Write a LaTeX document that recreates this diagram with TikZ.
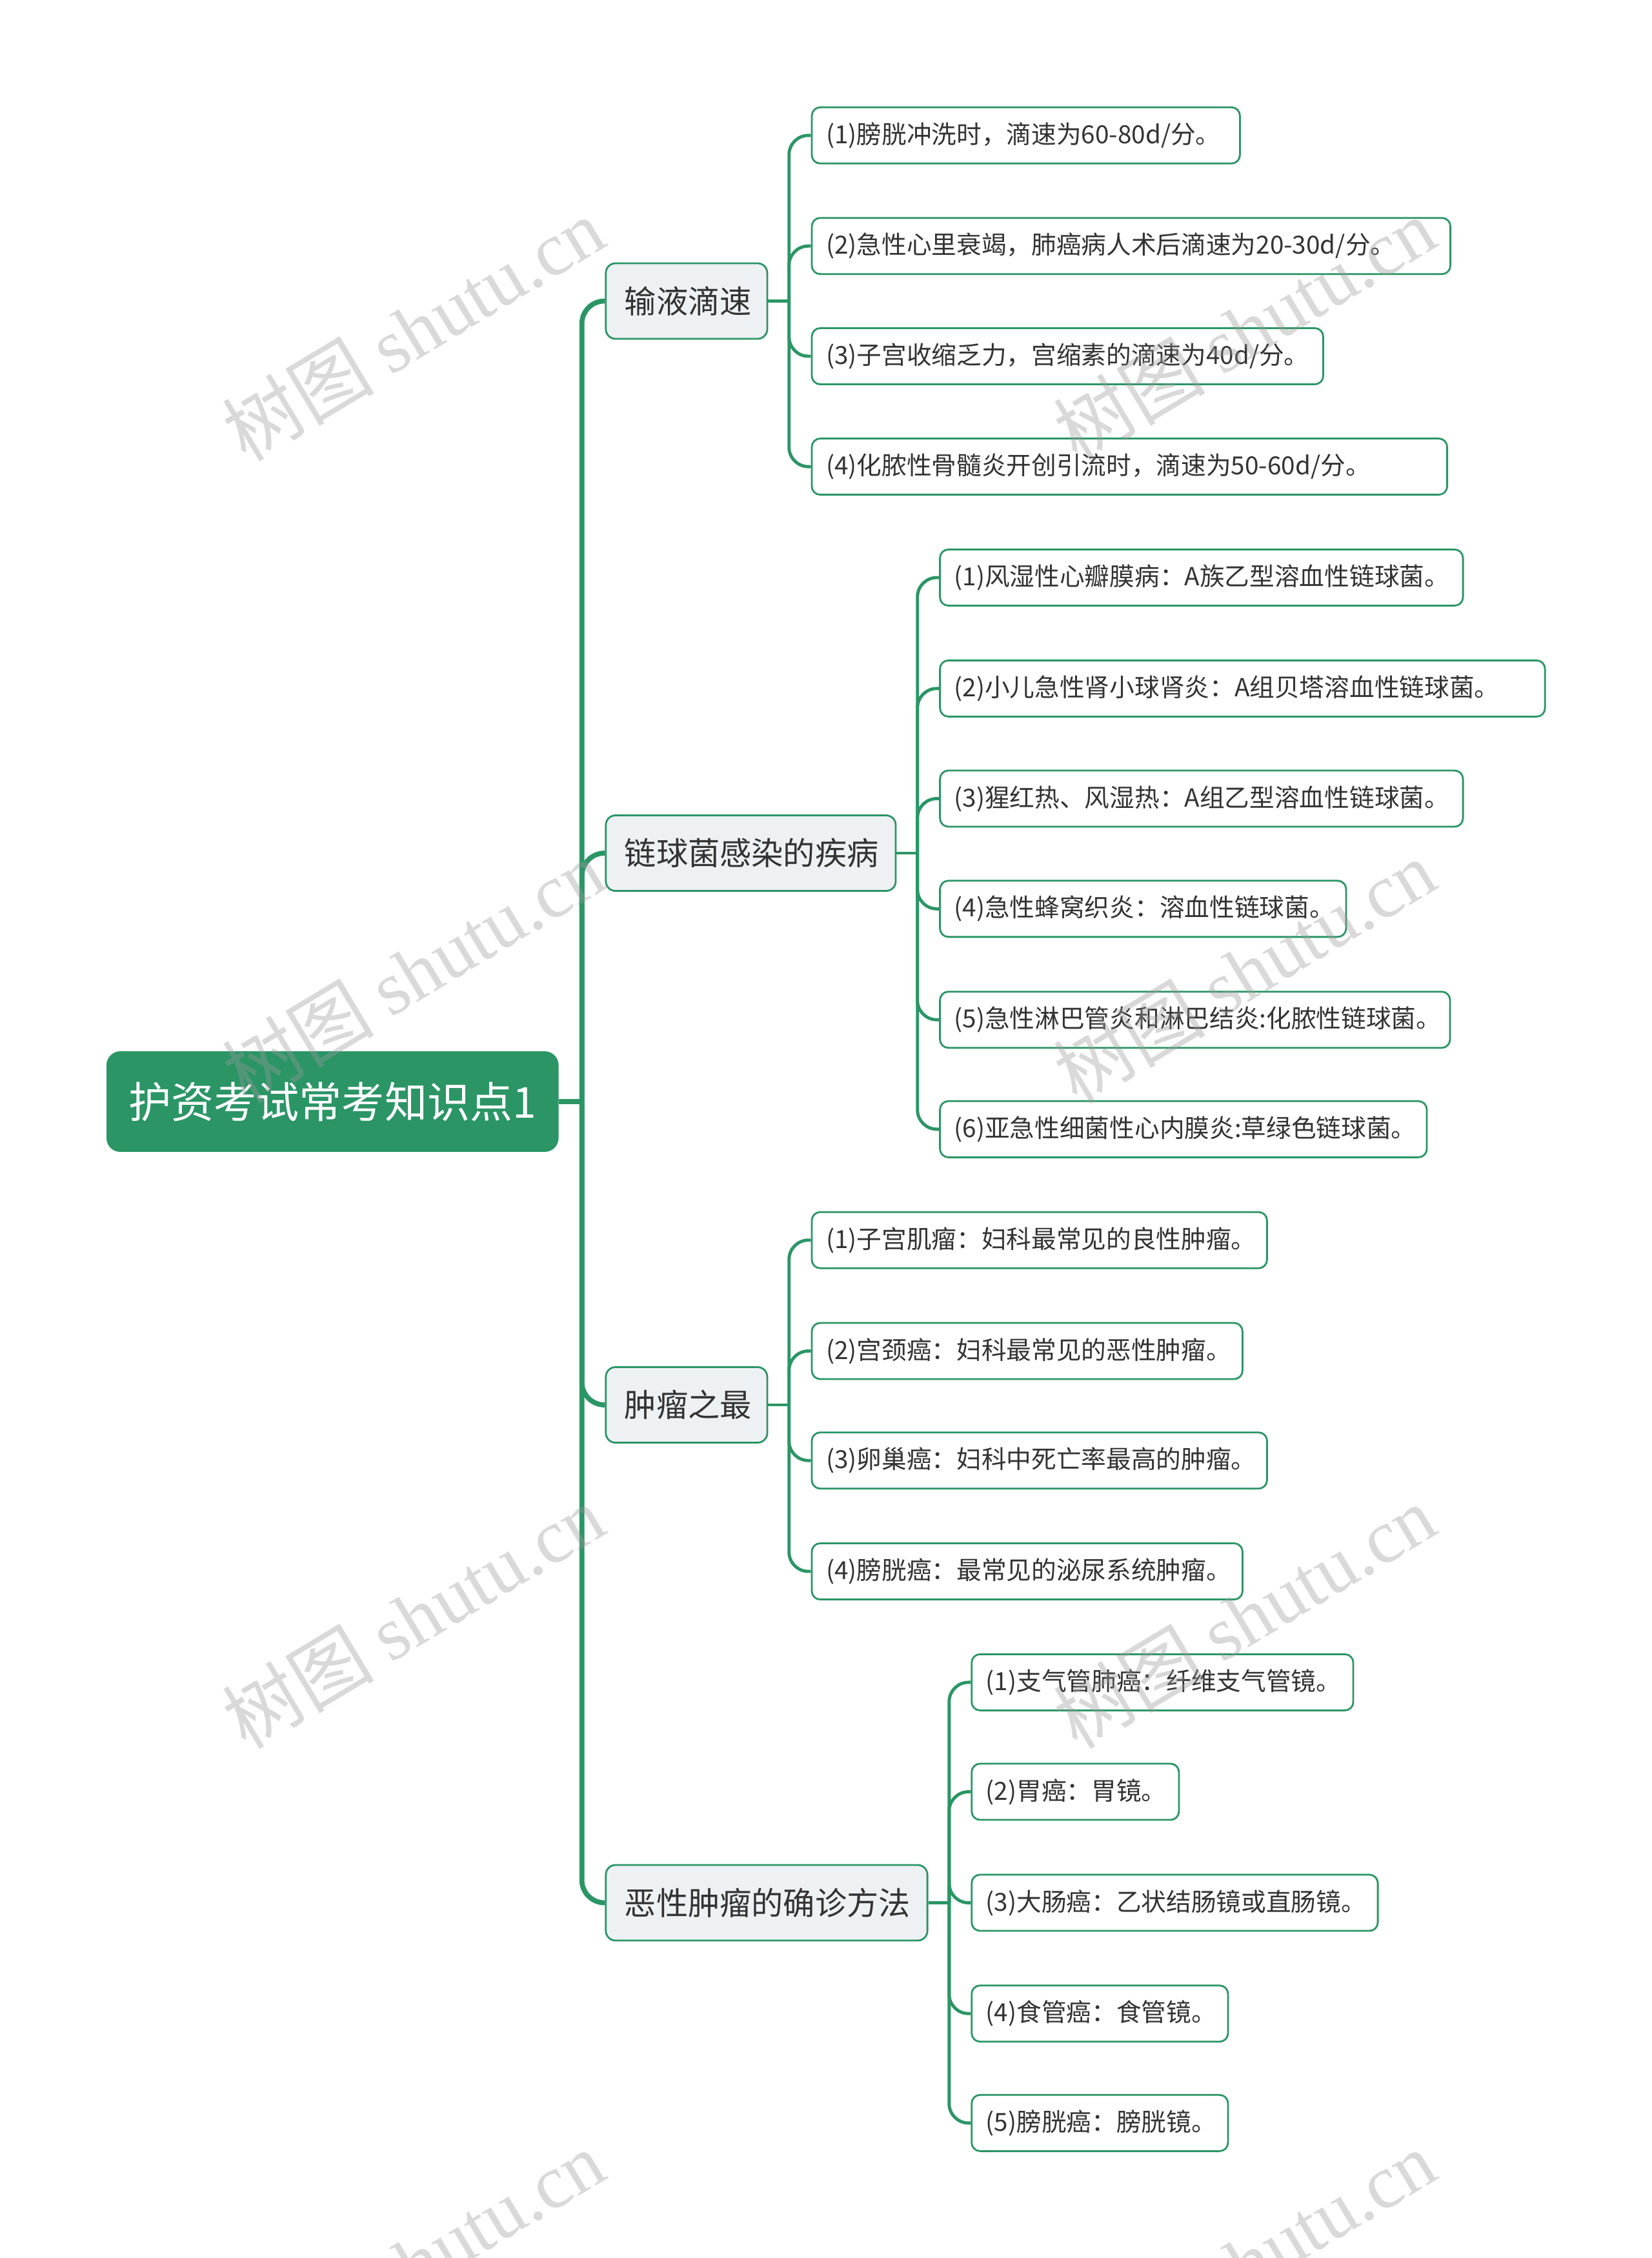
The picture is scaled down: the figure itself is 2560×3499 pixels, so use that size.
\documentclass[tikz,border=0pt]{standalone}
\usepackage{fontspec}
\setmainfont{Noto Sans CJK SC}
\newfontfamily\wmlat{Liberation Serif}
\definecolor{G}{HTML}{2B9566}
\definecolor{LF}{HTML}{EEF1F4}
\definecolor{TX}{HTML}{333333}
\newcommand\leaffont{\fontsize{11pt}{13pt}\selectfont}
\newcommand\lonefont{\fontsize{14pt}{16pt}\selectfont}
\newcommand\rootfont{\fontsize{18.8pt}{21pt}\selectfont}
\newcommand\wmfont{\fontsize{33.5pt}{35pt}\selectfont}
\newcommand\lf[5]{\node[leaf, text width=#4cm] (#1) at (#3,#2) {\mbox{#5}};}
\begin{document}
\begin{tikzpicture}[x=0.01cm,y=-0.01cm,
  rootbox/.style={fill=G, draw=G, line width=0.8pt, rounded corners=0.2cm, anchor=west,
    minimum height=1.53cm, inner xsep=0.33cm, inner ysep=0pt, text=white, font=\rootfont, align=left},
  lone/.style={fill=LF, draw=G, line width=0.8pt, rounded corners=0.15cm, anchor=west,
    minimum height=1.17cm, inner xsep=0.29cm, inner ysep=0pt, text=TX, font=\lonefont, align=center},
  leaf/.style={fill=white, draw=G, line width=0.8pt, rounded corners=0.13cm, anchor=west,
    minimum height=0.87cm, inner xsep=0.22cm, inner ysep=0pt, text=TX, font=\leaffont, align=left},
  trunk/.style={draw=G, line width=2.2pt, rounded corners=0.35cm},
  brk/.style={draw=G, line width=1.4pt, rounded corners=0.3cm},
  wm/.style={text=black!40, opacity=0.375, rotate=31, font=\wmfont, inner sep=0pt}
]
\useasboundingbox (0,0) rectangle (2560,3499);

% root
\node[rootbox] (R) at (165,1707) {护资考试常考知识点1};
\coordinate (T) at (901.7,1707);

% level 1
\node[lone, text width=1.92cm] (A) at (937.4,466.5) {输液滴速};
\node[lone, text width=3.91cm] (B) at (937.4,1322) {链球菌感染的疾病};
\node[lone, text width=1.92cm] (C) at (937.4,2177) {肿瘤之最};
\node[lone, text width=4.40cm] (D) at (937.4,2948.5) {恶性肿瘤的确诊方法};

\coordinate (Ab) at (1222.7,466.5);
\coordinate (Bb) at (1421.7,1322);
\coordinate (Cb) at (1222.7,2177);
\coordinate (Db) at (1470.8,2948.5);

% leaves group A
\lf{A1}{209.8}{1256.6}{6.19}{(1)膀胱冲洗时，滴速为60-80d/分。}
\lf{A2}{381.2}{1256.6}{9.45}{(2)急性心里衰竭，肺癌病人术后滴速为20-30d/分。}
\lf{A3}{552.0}{1256.6}{7.48}{(3)子宫收缩乏力，宫缩素的滴速为40d/分。}
\lf{A4}{723.1}{1256.6}{9.40}{(4)化脓性骨髓炎开创引流时，滴速为50-60d/分。}
% group B
\lf{B1}{895.0}{1455.2}{7.66}{(1)风湿性心瓣膜病：A族乙型溶血性链球菌。}
\lf{B2}{1066.9}{1455.2}{8.93}{(2)小儿急性肾小球肾炎：A组贝塔溶血性链球菌。}
\lf{B3}{1237.5}{1455.2}{7.66}{(3)猩红热、风湿热：A组乙型溶血性链球菌。}
\lf{B4}{1408.3}{1455.2}{5.85}{(4)急性蜂窝织炎：溶血性链球菌。}
\lf{B5}{1580.2}{1455.2}{7.46}{(5)急性淋巴管炎和淋巴结炎:化脓性链球菌。}
\lf{B6}{1749.8}{1455.2}{7.10}{(6)亚急性细菌性心内膜炎:草绿色链球菌。}
% group C
\lf{C1}{1921.7}{1256.6}{6.61}{(1)子宫肌瘤：妇科最常见的良性肿瘤。}
\lf{C2}{2093.5}{1256.6}{6.23}{(2)宫颈癌：妇科最常见的恶性肿瘤。}
\lf{C3}{2263.2}{1256.6}{6.61}{(3)卵巢癌：妇科中死亡率最高的肿瘤。}
\lf{C4}{2435.0}{1256.6}{6.23}{(4)膀胱癌：最常见的泌尿系统肿瘤。}
% group D
\lf{D1}{2606.9}{1504.3}{5.47}{(1)支气管肺癌：纤维支气管镜。}
\lf{D2}{2776.5}{1504.3}{2.77}{(2)胃癌：胃镜。}
\lf{D3}{2948.5}{1504.3}{5.85}{(3)大肠癌：乙状结肠镜或直肠镜。}
\lf{D4}{3120.2}{1504.3}{3.53}{(4)食管癌：食管镜。}
\lf{D5}{3289.8}{1504.3}{3.53}{(5)膀胱癌：膀胱镜。}

% connectors root -> level 1
\draw[trunk] (R.east) -- (T);
\foreach \n in {A,B,C,D} \draw[trunk] (T) |- (\n.west);

% connectors level 1 -> leaves
\draw[brk] (A.east) -- (Ab);
\foreach \n in {A1,A2,A3,A4} \draw[brk] (Ab) |- (\n.west);
\draw[brk] (B.east) -- (Bb);
\foreach \n in {B1,B2,B3,B4,B5,B6} \draw[brk] (Bb) |- (\n.west);
\draw[brk] (C.east) -- (Cb);
\foreach \n in {C1,C2,C3,C4} \draw[brk] (Cb) |- (\n.west);
\draw[brk] (D.east) -- (Db);
\foreach \n in {D1,D2,D3,D4,D5} \draw[brk] (Db) |- (\n.west);

% watermarks
\foreach \wx/\wy/\k in {640/510/1,1928/510/2,640/1505/3,1928/1505/4,640/2505/5,1928/2505/6,640/3505/7,1928/3505/8}
  \node[wm] (W\k) at (\wx,\wy) {树图 {\wmlat shutu.cn}};
\end{tikzpicture}
\end{document}
